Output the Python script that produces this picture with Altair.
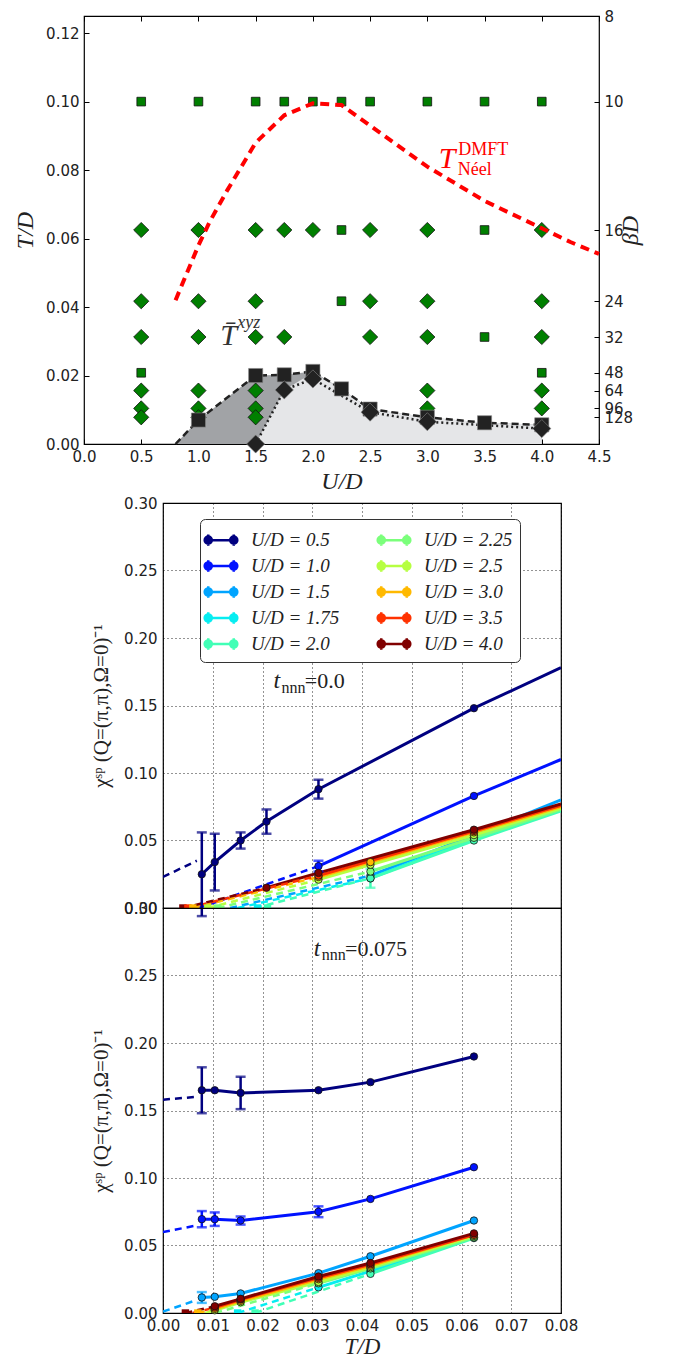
import altair as alt
import pandas as pd

# ---------------- shared labels / colours ----------------
U_LABELS = ["0.5", "1.0", "1.5", "1.75", "2.0", "2.25", "2.5", "3.0", "3.5", "4.0"]
U_COLORS = ["#000080", "#0012ff", "#00a4ff", "#06edf1", "#41ffb6",
            "#7bff7b", "#b6ff41", "#ffb900", "#ff3200", "#800000"]

# ---------------- top panel: phase diagram ----------------
TOP_X_TICKS = [0.0, 0.5, 1.0, 1.5, 2.0, 2.5, 3.0, 3.5, 4.0, 4.5]
TOP_Y_TICKS = [0.0, 0.02, 0.04, 0.06, 0.08, 0.10, 0.12]
BETA_T = [0.125, 0.1, 0.0625, 0.0416667, 0.03125, 0.0208333, 0.015625, 0.0104167, 0.0078125]

GSQ_U = [0.5, 1.0, 1.5, 1.75, 2.0, 2.25, 2.5, 3.0, 3.5, 4.0, 2.25, 3.5, 2.25, 3.5, 0.5, 4.0]
GSQ_T = [0.1, 0.1, 0.1, 0.1, 0.1, 0.1, 0.1, 0.1, 0.1, 0.1, 0.0625, 0.0625, 0.0417, 0.03125, 0.0208, 0.0208]

GDI_U = [0.5, 1.0, 1.5, 1.75, 2.0, 2.5, 3.0, 4.0,
         0.5, 1.0, 1.5, 2.5, 3.0, 4.0,
         0.5, 1.0, 1.5, 1.75, 2.5, 3.0, 4.0,
         0.5, 1.0, 1.5, 3.0, 4.0,
         0.5, 1.0, 1.5, 3.0, 4.0,
         0.5, 1.0, 1.5]
GDI_T = [0.0625, 0.0625, 0.0625, 0.0625, 0.0625, 0.0625, 0.0625, 0.0625,
         0.0417, 0.0417, 0.0417, 0.0417, 0.0417, 0.0417,
         0.03125, 0.03125, 0.03125, 0.03125, 0.03125, 0.03125, 0.03125,
         0.0156, 0.0156, 0.0156, 0.0156, 0.0156,
         0.0104, 0.0104, 0.0104, 0.0104, 0.0104,
         0.0078, 0.0078, 0.0078]

BSQ_U = [1.0, 1.5, 1.75, 2.0, 2.25, 2.5, 3.0, 3.5, 4.0]
BSQ_T = [0.0070, 0.0200, 0.0202, 0.0212, 0.0161, 0.0102, 0.0078, 0.0062, 0.0056]
BDI_U = [1.5, 1.75, 2.0, 2.5, 3.0, 4.0]
BDI_T = [0.0, 0.0158, 0.0190, 0.0093, 0.0065, 0.0045]

SQLINE_U = [0.8, 1.0, 1.5, 1.75, 2.0, 2.25, 2.5, 3.0, 3.5, 4.0]
SQLINE_T = [0.0, 0.0070, 0.0200, 0.0202, 0.0212, 0.0161, 0.0102, 0.0078, 0.0062, 0.0056]
LIGHT_U = [1.5, 1.75, 2.0, 2.25, 2.5, 3.0, 3.5, 4.0]
LIGHT_T = [0.0, 0.0158, 0.0208, 0.0161, 0.0102, 0.0078, 0.0062, 0.0056]

NEEL_U = [0.8, 0.9, 1.0, 1.1, 1.25, 1.5, 1.75, 2.0, 2.25, 2.5, 2.75, 3.0, 3.25, 3.5, 3.75, 4.0, 4.25, 4.5]
NEEL_T = [0.042, 0.050, 0.058, 0.065, 0.074, 0.088, 0.096, 0.0995, 0.099, 0.093, 0.087, 0.081,
          0.076, 0.071, 0.067, 0.063, 0.059, 0.0555]

# ---------------- lower panels: inverse susceptibility ----------------
LOW_X_TICKS = [0.0, 0.01, 0.02, 0.03, 0.04, 0.05, 0.06, 0.07, 0.08]
LOW_Y_TICKS = [0.0, 0.05, 0.10, 0.15, 0.20, 0.25, 0.30]

# t_nnn = 0.0
MID_U = ["0.5", "0.5", "0.5", "0.5", "0.5", "0.5", "1.0", "1.0", "1.5", "1.5", "1.75", "1.75",
         "2.0", "2.0", "2.25", "2.25", "2.5", "2.5", "2.5", "3.0", "3.0", "3.0", "3.5", "3.5",
         "4.0", "4.0", "4.0"]
MID_T = [0.0078, 0.0104, 0.0156, 0.0208, 0.03125, 0.0625, 0.03125, 0.0625, 0.0417, 0.0625,
         0.0417, 0.0625, 0.0417, 0.0625, 0.0417, 0.0625, 0.03125, 0.0417, 0.0625,
         0.03125, 0.0417, 0.0625, 0.03125, 0.0625, 0.0208, 0.03125, 0.0625]
MID_CHI = [0.025, 0.034, 0.050, 0.064, 0.088, 0.148, 0.031, 0.083, 0.024, 0.054, 0.022, 0.052,
           0.022, 0.050, 0.027, 0.052, 0.021, 0.032, 0.054, 0.023, 0.034, 0.056, 0.024, 0.057,
           0.015, 0.026, 0.058]
MID_ERR = [0.031, 0.021, 0.006, 0.009, 0.007, 0.0, 0.004, 0.0, 0.0, 0.0, 0.0, 0.0,
           0.007, 0.0, 0.0, 0.0, 0.0, 0.0, 0.0, 0.0, 0.0, 0.0, 0.0, 0.0, 0.0, 0.0, 0.0]
MID_EXT_U = ["0.5", "0.5", "1.0", "1.0", "1.5", "1.5", "1.75", "1.75", "2.0", "2.0", "2.25", "2.25",
             "2.5", "2.5", "3.0", "3.0", "3.5", "3.5", "4.0", "4.0"]
MID_EXT_T = [0.0625, 0.08, 0.0625, 0.08, 0.0625, 0.08, 0.0625, 0.08, 0.0625, 0.08, 0.0625, 0.08,
             0.0625, 0.08, 0.0625, 0.08, 0.0625, 0.08, 0.0625, 0.08]
MID_EXT_CHI = [0.148, 0.178, 0.083, 0.110, 0.054, 0.080, 0.052, 0.074, 0.050, 0.072, 0.052, 0.073,
               0.054, 0.074, 0.056, 0.075, 0.057, 0.076, 0.058, 0.077]
MID_DASH_U = ["0.5", "0.5", "1.0", "1.0", "1.5", "1.5", "1.75", "1.75", "2.0", "2.0", "2.25", "2.25",
              "2.5", "2.5", "3.0", "3.0", "3.5", "3.5", "4.0", "4.0"]
MID_DASH_T = [0.0, 0.0068, 0.0072, 0.03125, 0.0135, 0.0417, 0.0150, 0.0417, 0.0185, 0.0417,
              0.0110, 0.0417, 0.0090, 0.03125, 0.0060, 0.03125, 0.0050, 0.03125, 0.0040, 0.0208]
MID_DASH_CHI = [0.023, 0.035, 0.0, 0.031, 0.0, 0.024, 0.0, 0.022, 0.0, 0.022, 0.0, 0.027,
                0.0, 0.021, 0.0, 0.023, 0.0, 0.024, 0.0, 0.015]
MID_ZERO_U = ["4.0", "3.5", "3.0", "2.5", "2.25", "1.75", "2.0"]
MID_ZERO_T = [0.0040, 0.0050, 0.0060, 0.0090, 0.0110, 0.0190, 0.0210]

# t_nnn = 0.075
BOT_U = ["0.5", "0.5", "0.5", "0.5", "0.5", "0.5",
         "1.0", "1.0", "1.0", "1.0", "1.0", "1.0",
         "1.5", "1.5", "1.5", "1.5", "1.5", "1.5",
         "1.75", "1.75", "1.75", "2.0", "2.0", "2.25", "2.25", "2.25",
         "2.5", "2.5", "2.5", "2.5", "2.5", "3.0", "3.0", "3.0", "3.0", "3.0",
         "3.5", "3.5", "3.5", "3.5", "3.5", "4.0", "4.0", "4.0", "4.0", "4.0"]
BOT_T = [0.0078, 0.0104, 0.0156, 0.03125, 0.0417, 0.0625,
         0.0078, 0.0104, 0.0156, 0.03125, 0.0417, 0.0625,
         0.0078, 0.0104, 0.0156, 0.03125, 0.0417, 0.0625,
         0.03125, 0.0417, 0.0625, 0.0417, 0.0625, 0.03125, 0.0417, 0.0625,
         0.0104, 0.0156, 0.03125, 0.0417, 0.0625, 0.0104, 0.0156, 0.03125, 0.0417, 0.0625,
         0.0104, 0.0156, 0.03125, 0.0417, 0.0625, 0.0104, 0.0156, 0.03125, 0.0417, 0.0625]
BOT_CHI = [0.165, 0.165, 0.163, 0.165, 0.171, 0.190,
           0.0695, 0.0695, 0.0685, 0.0750, 0.0845, 0.108,
           0.0115, 0.0120, 0.0145, 0.0295, 0.0420, 0.0685,
           0.019, 0.031, 0.056, 0.029, 0.0555, 0.022, 0.033, 0.056,
           0.002, 0.008, 0.023, 0.034, 0.057, 0.003, 0.009, 0.025, 0.035, 0.058,
           0.004, 0.010, 0.026, 0.036, 0.058, 0.005, 0.0105, 0.027, 0.037, 0.059]
BOT_ERR = [0.017, 0.0, 0.012, 0.0, 0.0, 0.0,
           0.006, 0.005, 0.003, 0.004, 0.0, 0.0,
           0.004, 0.0, 0.0, 0.0, 0.0, 0.0,
           0.0, 0.0, 0.0, 0.0, 0.0, 0.0, 0.0, 0.0,
           0.0, 0.0, 0.0, 0.0, 0.0, 0.0, 0.0, 0.0, 0.0, 0.0,
           0.0, 0.0, 0.0, 0.0, 0.0, 0.0, 0.0, 0.0, 0.0, 0.0]
BOT_DASH_U = ["0.5", "0.5", "1.0", "1.0", "1.5", "1.5", "1.75", "1.75", "2.0", "2.0", "2.25", "2.25",
              "2.5", "2.5", "3.0", "3.0", "3.5", "3.5", "4.0", "4.0"]
BOT_DASH_T = [0.0, 0.0063, 0.0, 0.0063, 0.0, 0.0063, 0.0150, 0.03125, 0.0185, 0.0417,
              0.0105, 0.03125, 0.0085, 0.0104, 0.0070, 0.0104, 0.0060, 0.0104, 0.0045, 0.0104]
BOT_DASH_CHI = [0.158, 0.160, 0.060, 0.0645, 0.001, 0.009, 0.0, 0.019, 0.0, 0.029,
                0.0, 0.022, 0.0, 0.002, 0.0, 0.003, 0.0, 0.004, 0.0, 0.005]
BOT_ZERO_U = ["4.0", "3.0", "2.5", "1.75", "2.0"]
BOT_ZERO_T = [0.0045, 0.0070, 0.0100, 0.0150, 0.0185]

# annotation texts
TBAR_TXT = ["T\u0304", "xyz"]
NEEL_TXT = ["T", "DMFT", "N\u00e9el"]
MID_TNNN = ["t", "nnn", "=0.0"]
BOT_TNNN = ["t", "nnn", "=0.075"]

SERIF = "Liberation Serif"
LEG_PATH = ("M-1,0H1M-1,-0.45V0.45M1,-0.45V0.45"
            "M-0.72,0A0.28,0.28,0,1,1,-1.28,0A0.28,0.28,0,1,1,-0.72,0"
            "M1.28,0A0.28,0.28,0,1,1,0.72,0A0.28,0.28,0,1,1,1.28,0")

# ======================= top panel =======================
xs_top = alt.Scale(domain=[0, 4.5], nice=False)
ys_top = alt.Scale(domain=[0, 0.125], nice=False)
x_axis_top = alt.Axis(values=TOP_X_TICKS, format=".1f", title="U/D", labelOverlap=False,
                      titlePadding=5)
y_axis_left = alt.Axis(values=TOP_Y_TICKS, format=".2f", title="T/D", orient="left",
                       labelOverlap=False, titlePadding=8)
y_axis_right = alt.Axis(values=BETA_T, labelExpr="round(1/datum.value)", title="\u03b2D",
                        orient="right", titleAngle=270, labelOverlap=False, titlePadding=10)


def tick_axis(values, orient):
    # tick-only axis pulled inside the frame so its ticks point inwards
    return alt.Axis(values=values, orient=orient, labels=False, ticks=True, tickSize=5,
                    tickColor="#000", tickWidth=1, domain=False, grid=False, title=None,
                    offset=-5)


def tx(field, axis=None):
    return alt.X(field, type="quantitative", scale=xs_top, axis=axis)


def ty(field, axis=None):
    return alt.Y(field, type="quantitative", scale=ys_top, axis=axis)


dark = alt.Chart(pd.DataFrame({"U": SQLINE_U, "T": SQLINE_T})).mark_area(
    color="#a1a3a6").encode(x=tx("U", x_axis_top), y=ty("T", y_axis_left))
light = alt.Chart(pd.DataFrame({"U": LIGHT_U, "T": LIGHT_T})).mark_area(
    color="#e5e6e8").encode(x=tx("U", tick_axis(TOP_X_TICKS, "bottom")),
                            y=ty("T", tick_axis(TOP_Y_TICKS, "left")))
gsq = alt.Chart(pd.DataFrame({"U": GSQ_U, "T": GSQ_T})).mark_point(
    shape="square", filled=True, size=75, color="#007f00", stroke="#111", strokeWidth=0.8,
    opacity=1).encode(x=tx("U", tick_axis(TOP_X_TICKS, "top")),
                      y=ty("T", tick_axis(BETA_T, "right")))
gdi = alt.Chart(pd.DataFrame({"U": GDI_U, "T": GDI_T})).mark_point(
    shape="diamond", filled=True, size=230, color="#007f00", stroke="#111", strokeWidth=0.8,
    opacity=1).encode(x=tx("U"), y=ty("T"))
sqline = alt.Chart(pd.DataFrame({"U": SQLINE_U, "T": SQLINE_T})).mark_line(
    color="#222", strokeWidth=2.5, strokeDash=[7, 4]).encode(x=tx("U"), y=ty("T"))
diline = alt.Chart(pd.DataFrame({"U": BDI_U, "T": BDI_T})).mark_line(
    color="#222", strokeWidth=2.5, strokeDash=[2, 3]).encode(x=tx("U"), y=ty("T"))
bsq = alt.Chart(pd.DataFrame({"U": BSQ_U, "T": BSQ_T})).mark_point(
    shape="square", filled=True, size=200, color="#222", stroke="#888", strokeWidth=0.6,
    opacity=1).encode(x=tx("U"), y=ty("T"))
bdi = alt.Chart(pd.DataFrame({"U": BDI_U, "T": BDI_T})).mark_point(
    shape="diamond", filled=True, size=330, color="#222", stroke="#888", strokeWidth=0.6,
    opacity=1).encode(x=tx("U"), y=ty("T"))
neel = alt.Chart(pd.DataFrame({"U": NEEL_U, "T": NEEL_T})).mark_line(
    color="#ff0000", strokeWidth=4, strokeDash=[9, 6]).encode(x=tx("U"), y=ty("T", y_axis_right))

tbar_df = pd.DataFrame({"U": [1.19, 1.34], "T": [0.0315, 0.0352], "txt": TBAR_TXT})
tbar_main = alt.Chart(tbar_df.iloc[[0]]).mark_text(
    align="left", baseline="middle", font=SERIF, fontStyle="italic", fontSize=30,
    color="#333").encode(x=tx("U"), y=ty("T"), text="txt:N")
tbar_sup = alt.Chart(tbar_df.iloc[[1]]).mark_text(
    align="left", baseline="middle", font=SERIF, fontStyle="italic", fontSize=18,
    color="#333").encode(x=tx("U"), y=ty("T"), text="txt:N")
neel_df = pd.DataFrame({"U": [3.10, 3.27, 3.265], "T": [0.0832, 0.0860, 0.0800], "txt": NEEL_TXT})
neel_main = alt.Chart(neel_df.iloc[[0]]).mark_text(
    align="left", baseline="middle", font=SERIF, fontStyle="italic", fontSize=30,
    color="#ff0000").encode(x=tx("U"), y=ty("T"), text="txt:N")
neel_sub = alt.Chart(neel_df.iloc[[1, 2]]).mark_text(
    align="left", baseline="middle", font=SERIF, fontSize=18,
    color="#ff0000").encode(x=tx("U"), y=ty("T"), text="txt:N")

top = alt.layer(dark, light, gsq, gdi, sqline, diline, bsq, bdi, neel,
                tbar_main, tbar_sup, neel_main, neel_sub).resolve_scale(
    x="independent", y="independent").properties(width=515, height=428)

# ======================= lower panels =======================
color_enc = alt.Color("U:N", scale=alt.Scale(domain=U_LABELS, range=U_COLORS), legend=None)
CHI_TITLE = "\u03c7\u02e2\u1d56 (Q=(\u03c0,\u03c0),\u03a9=0)\u207b\u00b9"


def lower(pts, dash, ext, zeros, tnnn_txt, tnnn_pos, bottom, legend):
    xsc = alt.Scale(domain=[0, 0.08], nice=False)
    ysc = alt.Scale(domain=[0, 0.30], nice=False)
    if bottom:
        xax = alt.Axis(values=LOW_X_TICKS, format=".2f", grid=True, title="T/D",
                       labelOverlap=False, titlePadding=2, labelPadding=5, titleFontSize=23)
    else:
        xax = alt.Axis(values=LOW_X_TICKS, format=".2f", grid=True, title=None, labels=False)
    yax = alt.Axis(values=LOW_Y_TICKS, format=".2f", grid=True, title=CHI_TITLE,
                   titleFontStyle="normal", titleFontSize=21, titlePadding=12,
                   labelOverlap=False, labelPadding=6)

    def X():
        return alt.X("T:Q", scale=xsc, axis=xax)

    def Y(field="chi"):
        return alt.Y(field, type="quantitative", scale=ysc, axis=yax)

    layers = [alt.Chart(pts).mark_line(strokeWidth=3).encode(x=X(), y=Y(), color=color_enc),
              alt.Chart(dash).mark_line(strokeWidth=2.5, strokeDash=[7, 5], clip=True).encode(
                  x=X(), y=Y(), color=color_enc)]
    if ext is not None:
        layers.append(alt.Chart(ext).mark_line(strokeWidth=3, clip=True).encode(
            x=X(), y=Y(), color=color_enc))
    errs = pts[pts["err"] > 0]
    layers.append(alt.Chart(errs).mark_rule(strokeWidth=2.5).encode(
        x=X(), y=Y("lo"), y2="hi:Q", color=color_enc))
    layers.append(alt.Chart(errs).mark_tick(orient="horizontal", size=10, thickness=2.5).encode(
        x=X(), y=Y("lo"), color=color_enc))
    layers.append(alt.Chart(errs).mark_tick(orient="horizontal", size=10, thickness=2.5).encode(
        x=X(), y=Y("hi"), color=color_enc))
    layers.append(alt.Chart(zeros).mark_point(shape="square", filled=True, size=55, opacity=1,
                                              clip=True).encode(
        x=X(), y=Y(), color=color_enc))
    layers.append(alt.Chart(pts).mark_point(filled=True, size=55, opacity=1, stroke="#111",
                                            strokeWidth=0.8).encode(
        x=X(), y=Y(), color=color_enc))
    tdf = pd.DataFrame({"T": tnnn_pos[0], "chi": tnnn_pos[1], "txt": tnnn_txt})
    layers.append(alt.Chart(tdf.iloc[[0]]).mark_text(
        align="left", baseline="middle", font=SERIF, fontStyle="italic", fontSize=24,
        color="#222").encode(x=X(), y=Y(), text="txt:N"))
    layers.append(alt.Chart(tdf.iloc[[1]]).mark_text(
        align="left", baseline="middle", font=SERIF, fontSize=16,
        color="#222").encode(x=X(), y=Y(), text="txt:N"))
    layers.append(alt.Chart(tdf.iloc[[2]]).mark_text(
        align="left", baseline="middle", font=SERIF, fontSize=22,
        color="#222").encode(x=X(), y=Y(), text="txt:N"))
    if legend:
        # the legend is lifted to the whole figure; its offsets are from the top panel's origin
        leg = alt.Legend(orient="none", legendX=116, legendY=503, columns=2, columnPadding=32,
                         rowPadding=1, padding=7, fillColor="white", strokeColor="#333",
                         cornerRadius=5, title=None, labelFont=SERIF, labelFontStyle="italic",
                         labelFontSize=19, labelColor="#222", labelOffset=16, symbolSize=650,
                         symbolType=LEG_PATH, symbolStrokeWidth=2.5, symbolOpacity=1,
                         labelExpr="'U/D = ' + datum.label")
        lscale = alt.Scale(domain=U_LABELS, range=U_COLORS)
        dummy = pd.DataFrame({"U": pd.Series([], dtype=str)})
        layers.append(alt.Chart(dummy).mark_point(filled=True, opacity=1).encode(
            stroke=alt.Stroke("U:N", scale=lscale, legend=leg),
            fill=alt.Fill("U:N", scale=lscale, legend=leg)))
    return alt.layer(*layers).properties(width=398, height=405)


def pts_frame(u, t, chi, err):
    df = pd.DataFrame({"U": u, "T": t, "chi": chi, "err": err})
    df["lo"] = df["chi"] - df["err"]
    df["hi"] = df["chi"] + df["err"]
    return df


mid = lower(pts_frame(MID_U, MID_T, MID_CHI, MID_ERR),
            pd.DataFrame({"U": MID_DASH_U, "T": MID_DASH_T, "chi": MID_DASH_CHI}),
            pd.DataFrame({"U": MID_EXT_U, "T": MID_EXT_T, "chi": MID_EXT_CHI}),
            pd.DataFrame({"U": MID_ZERO_U, "T": MID_ZERO_T, "chi": [0.0] * len(MID_ZERO_U)}),
            MID_TNNN, ([0.0222, 0.0238, 0.0285], [0.168, 0.163, 0.168]), False, True)
bot = lower(pts_frame(BOT_U, BOT_T, BOT_CHI, BOT_ERR),
            pd.DataFrame({"U": BOT_DASH_U, "T": BOT_DASH_T, "chi": BOT_DASH_CHI}),
            None,
            pd.DataFrame({"U": BOT_ZERO_U, "T": BOT_ZERO_T, "chi": [0.0] * len(BOT_ZERO_U)}),
            BOT_TNNN, ([0.0303, 0.0319, 0.0366], [0.270, 0.265, 0.270]), True, False)

RES = dict(x="independent", y="independent", color="independent")

inner = alt.vconcat(mid, bot, spacing=0, bounds="flush").resolve_scale(**RES)
spacer = alt.Chart(pd.DataFrame({"v": [0]})).mark_point(opacity=0).properties(
    width=4, height=10, view=alt.ViewBackground(stroke="transparent"))
lower_block = alt.hconcat(spacer, inner, spacing=0).resolve_scale(**RES)

chart = alt.vconcat(top, lower_block, spacing=1).resolve_scale(**RES).properties(
    padding={"left": 5, "top": 0, "right": 5, "bottom": 0},
    background="white"
).configure_view(
    stroke="black", strokeWidth=1.2
).configure_axis(
    labelFont="DejaVu Sans", labelFontSize=15, labelColor="#222", labelFlush=False,
    titleFont=SERIF, titleFontStyle="italic", titleFontSize=24, titleFontWeight="normal",
    titleColor="#222", domain=False, ticks=False, grid=False, labelPadding=5,
    gridColor="#000", gridDash=[1, 3], gridOpacity=0.85, gridWidth=1
)

chart.save("out.html", embed_options={"renderer": "svg", "actions": False})
